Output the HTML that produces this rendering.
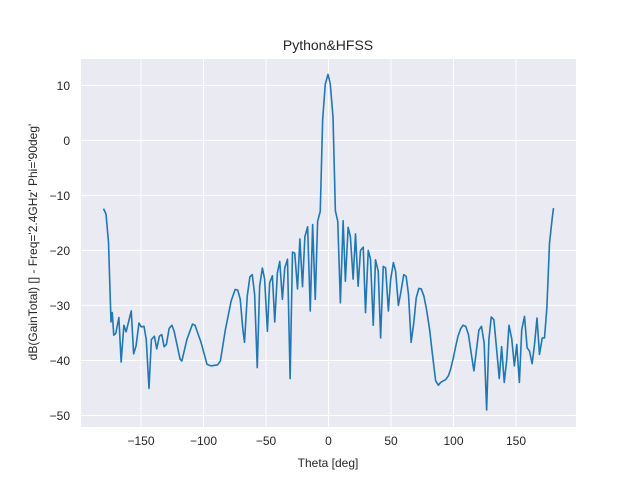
<!DOCTYPE html>
<html><head><meta charset="utf-8"><style>
body{margin:0;background:#fff}
svg text{font-family:"Liberation Sans",Arial,sans-serif;fill:#262626}
</style></head><body>
<svg id="chart" width="640" height="480" xmlns="http://www.w3.org/2000/svg">
<rect x="0" y="0" width="640" height="480" fill="#fff"/>
<rect x="81" y="59" width="495" height="368" fill="#EAEAF2"/>
<g id="grid"></g>
<g id="ticks"></g>
<path id="line" fill="none" stroke="#1f77b4" stroke-width="1.6" stroke-linejoin="round"/>
<text x="328" y="50" font-size="14" text-anchor="middle">Python&amp;HFSS</text>
<text x="328" y="467" font-size="12" text-anchor="middle">Theta [deg]</text>
<text transform="translate(37,242) rotate(-90)" font-size="12" text-anchor="middle">dB(GainTotal) [] - Freq='2.4GHz' Phi='90deg'</text>
</svg>
<script>
const theta=[-180,-178,-176,-174,-173,-171.8,-170.2,-167.7,-165.9,-163.7,-161.9,-157.8,-155.9,-154,-151.6,-149.8,-147.6,-145.8,-143.6,-141.7,-139.3,-137.4,-135.3,-133.4,-131.5,-129.7,-127.5,-125.3,-123.5,-118.7,-117.3,-113.3,-108.8,-106.8,-102,-97.2,-94,-88.7,-86.5,-82.5,-77.9,-74.7,-72.6,-70.6,-68.5,-67.2,-65,-62.9,-61,-59.1,-57,-55.1,-52.9,-51.1,-48.9,-47.1,-44.9,-43,-40.9,-39,-36.9,-35,-32.8,-30.7,-28.8,-27,-24.8,-22.9,-20.8,-18.9,-16.7,-14.6,-12.7,-10.6,-8.7,-6.6,-4.7,-2.6,-0.4,1.4,3.6,5.5,7.4,9.5,11.7,13.5,15.7,17.5,19.7,21.6,23.7,25.6,27.8,29.6,31.8,33.6,35.8,37.6,39.8,41.7,43.8,45.7,47.9,49.7,51.9,53.7,55.9,57.8,60.2,62.1,64,66.1,68.2,70.2,72.3,74.2,76.3,78.4,80.9,83,85.7,87.9,89.7,91.9,93.7,95.9,97.7,99.9,101.8,103.6,105.8,107.6,109.8,112,114.1,116.3,118.1,120.3,122.4,124.5,126.5,128.3,130.2,132.3,134.5,136.6,138.5,140.6,142.6,144.4,146.6,148.7,150.6,152.7,154.6,156.8,158.9,160.8,162.9,164.8,166.8,168.8,171,172.8,174.7,176.8,179,180];
const gain=[-12.4,-13.4,-18.5,-33,-31.3,-35.4,-35.1,-32.2,-40.3,-33.6,-34.8,-31,-38.8,-37.4,-33.2,-33.9,-33.8,-36.2,-45.1,-36.2,-35.6,-37.9,-35.6,-35.3,-37.5,-37.1,-34.2,-33.6,-34.7,-39.8,-40.1,-36.2,-33.4,-33.6,-36.7,-40.7,-41,-40.8,-40.1,-34.4,-29.2,-27.1,-27.2,-28.9,-34.4,-36.7,-28.3,-24.8,-24.4,-28,-41.3,-26.5,-23.2,-25.2,-34.7,-25.9,-24.6,-33,-24.1,-22,-28.9,-23.2,-21.6,-43.3,-20.3,-20.5,-27,-17.9,-26.6,-17.5,-15.7,-31,-15.3,-28.9,-14.7,-12.9,3.7,10.2,12.0,10.3,4.3,-12.8,-14.7,-29.5,-14.6,-25.6,-15.8,-17.5,-25.2,-17,-26.5,-20,-19.4,-31.3,-20,-21.6,-33.6,-21.7,-23.8,-35.9,-22.9,-23.2,-31,-25.3,-22.2,-23.8,-30,-27.7,-24.4,-24.7,-28,-36.7,-33.2,-28.6,-26.9,-27,-28.3,-30.7,-34.4,-38.6,-43.7,-44.5,-44,-43.7,-43.5,-42.8,-41.6,-39.5,-37.4,-35.6,-34.2,-33.6,-33.8,-35.3,-38.6,-41.9,-38.6,-34.5,-33.8,-36.8,-49,-36.2,-32.1,-32.6,-38,-43.3,-37.5,-44,-39.8,-33.6,-36.1,-41,-37.1,-44,-34.4,-32,-37.7,-38.3,-40.6,-37.1,-32.3,-38.9,-35.9,-35.9,-30.4,-18.7,-14.1,-12.3];
const xTicks=[-150,-100,-50,0,50,100,150];
const yTicks=[10,0,-10,-20,-30,-40,-50];
const L=81,R=576,T=59,B=427,xmin=-198,xmax=198,ymin=-52.1,ymax=14.8;
function sx(v){return L+(v-xmin)/(xmax-xmin)*(R-L);}
function sy(v){return B-(v-ymin)/(ymax-ymin)*(B-T);}
const NS="http://www.w3.org/2000/svg";
const grid=document.getElementById('grid'),tk=document.getElementById('ticks');
xTicks.forEach(v=>{
 const l=document.createElementNS(NS,'line');
 
 
 l.setAttribute('x1',sx(v));l.setAttribute('x2',sx(v));l.setAttribute('y1',T);l.setAttribute('y2',B);
 l.setAttribute('stroke','#fff');l.setAttribute('stroke-width','1');grid.appendChild(l);
 const t=document.createElementNS(NS,'text');
 
 
 t.setAttribute('x',sx(v));t.setAttribute('y',445);t.setAttribute('font-size','12');t.setAttribute('text-anchor','middle');
 t.textContent=v<0?'\u2212'+(-v):String(v);tk.appendChild(t);
});
yTicks.forEach(v=>{
 const l=document.createElementNS(NS,'line');
 
 
 l.setAttribute('x1',L);l.setAttribute('x2',R);l.setAttribute('y1',sy(v));l.setAttribute('y2',sy(v));
 l.setAttribute('stroke','#fff');l.setAttribute('stroke-width','1');grid.appendChild(l);
 const t=document.createElementNS(NS,'text');
 
 
 t.setAttribute('x',70);t.setAttribute('y',sy(v)+4.5);t.setAttribute('font-size','12');t.setAttribute('text-anchor','end');
 t.textContent=v<0?'\u2212'+(-v):String(v);tk.appendChild(t);
});
document.getElementById('line').setAttribute('d',theta.map((v,i)=>(i?'L':'M')+sx(v).toFixed(2)+','+sy(gain[i]).toFixed(2)).join(''));
</script>
</body></html>
